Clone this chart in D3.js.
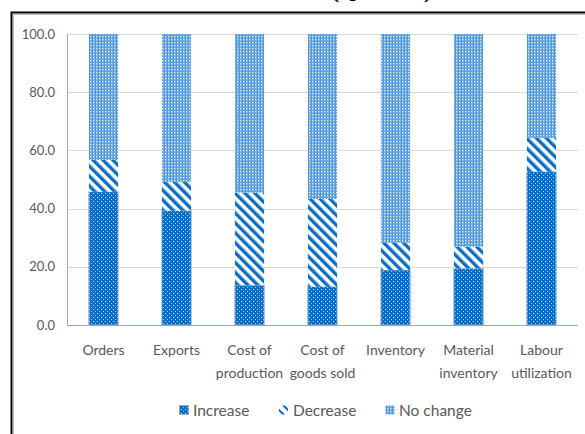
<!DOCTYPE html>
<html>
<head>
<meta charset="utf-8">
<script src="https://cdn.jsdelivr.net/npm/d3@7"></script>
<style>
  html, body { margin: 0; padding: 0; background: #fff; }
  svg { display: block; }
</style>
</head>
<body>
<svg id="chart" width="585" height="434"></svg>
<script>
// Survey indicators: share of responses (%)
const categories = [
  ["Orders"],
  ["Exports"],
  ["Cost of", "production"],
  ["Cost of", "goods sold"],
  ["Inventory"],
  ["Material", "inventory"],
  ["Labour", "utilization"]
];
const seriesNames = ["Increase", "Decrease", "No change"];
const increase = [45.8, 39.3, 13.7, 13.2, 18.9, 19.5, 52.7];
const decrease = [10.9, 9.9, 31.8, 30.1, 9.4, 7.4, 11.6];
const noChange = [43.3, 50.8, 54.5, 56.7, 71.7, 73.1, 35.7];
const yTicks = [0, 20, 40, 60, 80, 100];

const svg = d3.select("#chart");
const defs = svg.append("defs");

// Dotted fill for "Increase"
const pInc = defs.append("pattern").attr("id", "pInc")
  .attr("patternUnits", "userSpaceOnUse").attr("width", 4).attr("height", 4);
pInc.append("rect").attr("width", 4).attr("height", 4).attr("fill", "#0A6EC2");
pInc.append("rect").attr("x", 1).attr("y", 1).attr("width", 1).attr("height", 1).attr("fill", "#cfe3f5");
pInc.append("rect").attr("x", 3).attr("y", 3).attr("width", 1).attr("height", 1).attr("fill", "#9cc6ea");

// Diagonal stripes for "Decrease"
const pDec = defs.append("pattern").attr("id", "pDec")
  .attr("patternUnits", "userSpaceOnUse").attr("width", 7).attr("height", 7)
  .attr("patternTransform", "rotate(-45)");
pDec.append("rect").attr("width", 7).attr("height", 7).attr("fill", "#ffffff");
pDec.append("rect").attr("width", 3.4).attr("height", 7).attr("fill", "#0A6EC2");

// Fine grid fill for "No change"
const pNo = defs.append("pattern").attr("id", "pNo")
  .attr("patternUnits", "userSpaceOnUse").attr("width", 3).attr("height", 3);
pNo.append("rect").attr("width", 3).attr("height", 3).attr("fill", "#84B8E6");
pNo.append("rect").attr("x", 0).attr("y", 0).attr("width", 1).attr("height", 1).attr("fill", "#eef5fc");
pNo.append("rect").attr("x", 2).attr("y", 0).attr("width", 1).attr("height", 3).attr("fill", "#4690D3");
pNo.append("rect").attr("x", 0).attr("y", 2).attr("width", 3).attr("height", 1).attr("fill", "#62A3DD");

const fills = ["url(#pInc)", "url(#pDec)", "url(#pNo)"];

// Title (runs off the top edge)
svg.append("text")
  .attr("x", 293).attr("y", -2)
  .attr("text-anchor", "middle")
  .attr("font-family", "Liberation Serif")
  .attr("font-weight", "bold")
  .attr("font-size", 22)
  .attr("fill", "#000")
  .text("Business Situation (Q3: 2023)");

// Outer frame
svg.append("path")
  .attr("d", "M11.5,440 L11.5,12.5 L600,12.5")
  .attr("fill", "none").attr("stroke", "#000").attr("stroke-width", 2);
svg.append("path")
  .attr("d", "M13.5,440 L13.5,14.5 L600,14.5")
  .attr("fill", "none").attr("stroke", "#bbb").attr("stroke-width", 1);

const margin = { left: 67, right: 578, top: 34, bottom: 325 };
const x = d3.scaleBand()
  .domain(d3.range(categories.length))
  .range([margin.left, margin.right])
  .paddingInner(0.6).paddingOuter(0.3);
const y = d3.scaleLinear().domain([0, 100]).range([margin.bottom, margin.top]);

// Gridlines
svg.append("g").selectAll("line")
  .data(yTicks.filter(t => t > 0))
  .join("line")
  .attr("x1", margin.left).attr("x2", margin.right)
  .attr("y1", d => Math.round(y(d)) + 0.5).attr("y2", d => Math.round(y(d)) + 0.5)
  .attr("stroke", "#d9d9d9").attr("stroke-width", 1);

// Y axis labels
const yAxis = d3.axisLeft(y).tickValues(yTicks).tickFormat(d3.format(".1f")).tickSize(0).tickPadding(12);
const gy = svg.append("g").attr("transform", `translate(${margin.left},0)`).call(yAxis);
gy.select(".domain").remove();
gy.selectAll("text")
  .attr("font-family", "Lato, 'Open Sans', sans-serif")
  .attr("font-size", 13).attr("fill", "#595959");

// Stacked bars
const stackData = categories.map((c, i) => ({
  i, "Increase": increase[i], "Decrease": decrease[i], "No change": noChange[i]
}));
const stacked = d3.stack().keys(seriesNames)(stackData);

stacked.forEach((layer, k) => {
  svg.append("g").selectAll("rect")
    .data(layer)
    .join("rect")
    .attr("x", d => x(d.data.i))
    .attr("width", x.bandwidth())
    .attr("y", d => y(d[1]))
    .attr("height", d => y(d[0]) - y(d[1]))
    .attr("fill", fills[k])
    .attr("stroke", k === 0 ? "#8eaadb" : "none")
    .attr("stroke-width", k === 0 ? 1 : 0);
});

// Axis lines
svg.append("line")
  .attr("x1", margin.left + 0.5).attr("x2", margin.left + 0.5)
  .attr("y1", margin.top).attr("y2", margin.bottom)
  .attr("stroke", "#8eaadb");
svg.append("line")
  .attr("x1", margin.left).attr("x2", margin.right)
  .attr("y1", margin.bottom + 0.5).attr("y2", margin.bottom + 0.5)
  .attr("stroke", "#8eaadb");

// Category labels
const xl = svg.append("g");
categories.forEach((lines, i) => {
  const t = xl.append("text")
    .attr("x", x(i) + x.bandwidth() / 2)
    .attr("y", 355)
    .attr("text-anchor", "middle")
    .attr("font-family", "Lato, 'Open Sans', sans-serif")
    .attr("font-size", 14).attr("fill", "#595959");
  lines.forEach((ln, j) => {
    t.append("tspan").attr("x", x(i) + x.bandwidth() / 2).attr("dy", j === 0 ? 0 : 23).text(ln);
  });
});

// Legend
const legendX = [179, 279, 385];
const lg = svg.append("g");
seriesNames.forEach((name, k) => {
  if (k === 1) {
    // stripe corners of the swatch, running top-left to bottom-right
    const lx = legendX[k], ly = 405.5;
    lg.append("path")
      .attr("d", `M${lx + 3},${ly} L${lx + 6},${ly} L${lx + 9},${ly + 3} L${lx + 9},${ly + 6} Z ` +
                 `M${lx},${ly + 3} L${lx + 6},${ly + 9} L${lx + 3},${ly + 9} L${lx},${ly + 6} Z`)
      .attr("fill", "#0A6EC2");
  } else {
    lg.append("rect")
      .attr("x", legendX[k] + 0.5).attr("y", 405.5)
      .attr("width", 9).attr("height", 9)
      .attr("fill", fills[k])
      .attr("stroke", k === 0 ? "#8eaadb" : "none");
  }
  lg.append("text")
    .attr("x", legendX[k] + 14).attr("y", 416)
    .attr("font-family", "Lato, 'Open Sans', sans-serif")
    .attr("font-size", 15.5).attr("fill", "#595959")
    .text(name);
});
</script>
</body>
</html>
